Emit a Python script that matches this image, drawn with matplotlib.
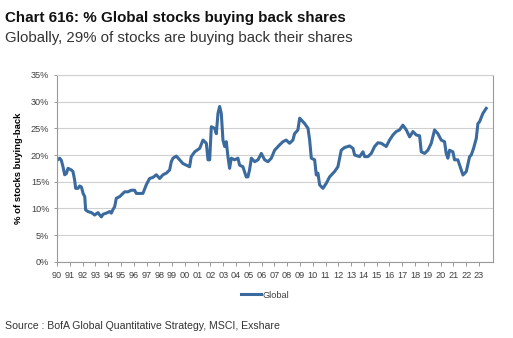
import matplotlib.pyplot as plt
from matplotlib.ticker import FuncFormatter

# decimal year / % of stocks buying back
years = [1990.00, 1990.21, 1990.34, 1990.47, 1990.60, 1990.73, 1990.86, 1991.12,
         1991.25, 1991.38, 1991.46, 1991.64, 1991.77, 1991.91, 1992.04, 1992.17,
         1992.24, 1992.42, 1992.69, 1992.95, 1993.21, 1993.34, 1993.47, 1993.60,
         1993.86, 1994.12, 1994.25, 1994.38, 1994.51, 1994.64, 1994.90, 1995.16,
         1995.29, 1995.55, 1995.81, 1996.07, 1996.20, 1996.46, 1996.72, 1996.98,
         1997.24, 1997.50, 1997.77, 1998.03, 1998.29, 1998.55, 1998.81, 1998.94,
         1999.07, 1999.33, 1999.59, 1999.85, 2000.11, 2000.37, 2000.50, 2000.77,
         2001.16, 2001.42, 2001.68, 2001.81, 2001.94, 2002.07, 2002.33, 2002.46,
         2002.59, 2002.72, 2002.85, 2002.98, 2003.11, 2003.24, 2003.37, 2003.50,
         2003.63, 2003.89, 2004.15, 2004.28, 2004.54, 2004.80, 2004.93, 2005.06,
         2005.20, 2005.46, 2005.72, 2005.98, 2006.24, 2006.50, 2006.76, 2007.02,
         2007.41, 2007.67, 2007.93, 2008.19, 2008.45, 2008.58, 2008.84, 2008.98,
         2009.24, 2009.37, 2009.63, 2009.76, 2009.89, 2010.15, 2010.28, 2010.41,
         2010.54, 2010.80, 2011.06, 2011.32, 2011.71, 2011.97, 2012.23, 2012.49,
         2012.88, 2013.15, 2013.28, 2013.67, 2013.93, 2014.06, 2014.32, 2014.58,
         2014.84, 2015.10, 2015.36, 2015.75, 2016.01, 2016.27, 2016.53, 2016.79,
         2017.05, 2017.32, 2017.58, 2017.84, 2018.10, 2018.36, 2018.49, 2018.75,
         2019.01, 2019.27, 2019.53, 2019.79, 2020.05, 2020.31, 2020.44, 2020.57,
         2020.70, 2020.96, 2021.09, 2021.35, 2021.62, 2021.75, 2022.01, 2022.27,
         2022.40, 2022.58, 2022.79, 2022.92, 2023.05, 2023.31, 2023.57]
global_pct = [19.0, 19.4, 19.0, 17.8, 16.3, 16.5, 17.5, 17.2,
              16.9, 15.3, 13.75, 13.75, 14.2, 14.0, 12.8, 12.2,
              9.7, 9.4, 9.2, 8.75, 9.2, 8.75, 8.4, 8.9,
              9.1, 9.4, 9.1, 9.8, 10.3, 11.9, 12.2, 12.8,
              13.1, 13.1, 13.4, 13.4, 12.8, 12.8, 12.8, 14.4,
              15.6, 15.8, 16.3, 15.6, 16.3, 16.6, 17.2, 18.75,
              19.4, 19.8, 19.1, 18.4, 18.1, 17.8, 19.7, 20.6,
              21.25, 22.8, 22.2, 19.1, 19.1, 25.3, 25.0, 24.0,
              27.8, 29.1, 27.8, 22.8, 21.6, 22.5, 19.7, 17.5,
              19.4, 19.1, 19.4, 18.1, 17.8, 15.9, 15.9, 17.2,
              19.4, 18.75, 19.1, 20.3, 19.1, 18.75, 19.4, 20.9,
              21.9, 22.5, 22.8, 22.2, 22.8, 24.0, 24.7, 26.9,
              26.25, 25.9, 25.0, 22.8, 19.4, 19.1, 16.25, 16.6,
              14.4, 13.75, 14.7, 15.9, 16.9, 17.8, 20.9, 21.4,
              21.7, 21.25, 20.0, 19.7, 20.6, 19.7, 19.7, 20.3,
              21.6, 22.3, 22.2, 21.6, 22.8, 23.75, 24.4, 24.7,
              25.6, 24.7, 23.4, 24.4, 23.75, 23.6, 20.6, 20.3,
              20.9, 22.2, 24.7, 24.0, 22.8, 22.5, 20.3, 19.4,
              20.9, 20.6, 19.1, 19.1, 17.2, 16.25, 16.9, 19.7,
              20.0, 21.25, 23.1, 25.9, 26.25, 27.8, 28.75]

tick_years = list(range(1990, 2024))
tick_labels = ["%02d" % (y % 100) for y in tick_years]

plt.rcParams['font.family'] = ['Liberation Sans', 'DejaVu Sans']

fig = plt.figure(figsize=(5.13, 3.38), dpi=100)
ax = fig.add_axes([57 / 513, 76.3 / 338, 436 / 513, 186.7 / 338])

line, = ax.plot(years, global_pct, color='#3a6a9e', lw=2.2, label='Global')

ax.set_xlim(1990, 2024.1)
ax.set_ylim(0, 35)
ax.set_yticks(range(0, 36, 5))
ax.yaxis.set_major_formatter(FuncFormatter(lambda v, p: "%d%%" % v))
ax.set_xticks(tick_years)
ax.set_xticklabels(tick_labels)
ax.tick_params(axis='x', labelsize=6.6, colors='#404040', length=3, width=0.6, color='#888888')
ax.tick_params(axis='y', labelsize=6.6, colors='#404040', length=2, width=0.6, color='#888888')
ax.grid(axis='y', color='#d0d0d0', lw=0.8)
ax.set_axisbelow(True)
for side in ['left', 'right', 'bottom', 'top']:
    ax.spines[side].set_color('#999999')
    ax.spines[side].set_linewidth(0.8)
ax.spines['top'].set_color('#d0d0d0')

ax.set_ylabel('% of stocks buying-back', fontsize=6.8, fontweight='bold', labelpad=6)

fig.legend(handles=[line], loc='center', bbox_to_anchor=(265 / 513, 1 - 295 / 338),
           frameon=False, fontsize=6.6, handlelength=2.2, handletextpad=0.1,
           labelcolor='#404040')

fig.text(5 / 513, 1 - 18 / 338, 'Chart 616: % Global stocks buying back shares',
         fontsize=10.9, fontweight='bold', va='center', ha='left', color='#111111')
fig.text(5 / 513, 1 - 38 / 338, 'Globally, 29% of stocks are buying back their shares',
         fontsize=10.8, va='center', ha='left', color='#333333')
fig.text(5 / 513, 1 - 326 / 338, 'Source : BofA Global Quantitative Strategy, MSCI, Exshare',
         fontsize=7.6, va='center', ha='left', color='#333333')

fig.savefig('out.png', dpi=100, facecolor='white')
